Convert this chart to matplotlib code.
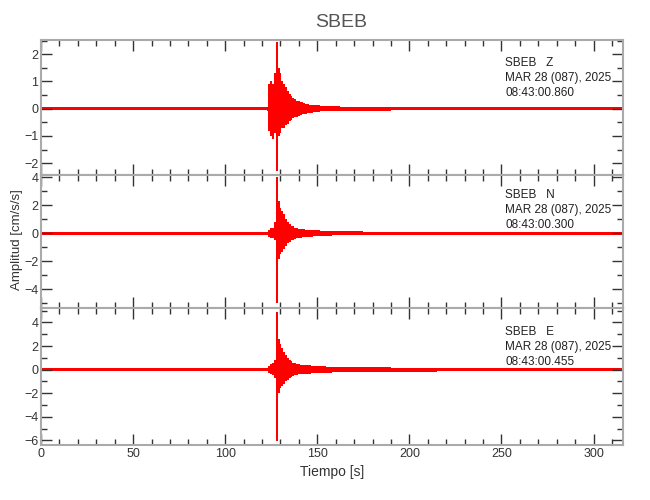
import matplotlib
matplotlib.use("Agg")
import matplotlib.pyplot as plt
from matplotlib.ticker import MultipleLocator

plt.rcParams['font.family'] = ['Liberation Sans', 'DejaVu Sans']

# time points (s): sparse in the noise, 1 s steps through the event
times = ([0, 30, 60, 90, 110]
         + list(range(120, 151))
         + [153, 156, 160, 165, 170, 180, 200, 230, 270, 316])

# envelope of each component (upper / lower)
z_hi = ([0.06, 0.06, 0.06, 0.06, 0.06]
        + [0.06, 0.06, 0.06, 0.07, 0.9, 1.0, 0.9, 1.3, 2.43, 1.5, 1.3, 1.0,
           0.9, 0.8, 0.65, 0.55, 0.45, 0.4, 0.35, 0.3, 0.28, 0.25, 0.25, 0.2,
           0.18, 0.18, 0.15, 0.15, 0.13, 0.12, 0.12]
        + [0.11, 0.1, 0.09, 0.08, 0.07, 0.065, 0.06, 0.06, 0.06, 0.06])
z_lo = ([-0.06, -0.06, -0.06, -0.06, -0.06]
        + [-0.06, -0.06, -0.06, -0.07, -0.8, -1.0, -1.1, -0.9, -2.28, -1.0, -0.9, -0.7,
           -0.7, -0.6, -0.55, -0.45, -0.4, -0.35, -0.3, -0.3, -0.25, -0.22, -0.2, -0.2,
           -0.18, -0.16, -0.15, -0.14, -0.12, -0.12, -0.11]
        + [-0.1, -0.1, -0.09, -0.08, -0.07, -0.065, -0.06, -0.06, -0.06, -0.06])

n_hi = ([0.1, 0.1, 0.1, 0.1, 0.1]
        + [0.1, 0.1, 0.1, 0.1, 0.25, 0.35, 0.4, 0.8, 4.0, 2.3, 1.8, 1.6,
           1.4, 1.0, 0.8, 0.65, 0.55, 0.5, 0.4, 0.35, 0.32, 0.3, 0.3, 0.28,
           0.27, 0.26, 0.25, 0.24, 0.22, 0.21, 0.2]
        + [0.19, 0.17, 0.15, 0.14, 0.13, 0.12, 0.11, 0.1, 0.1, 0.1])
n_lo = ([-0.1, -0.1, -0.1, -0.1, -0.1]
        + [-0.1, -0.1, -0.1, -0.1, -0.25, -0.3, -0.35, -0.5, -5.0, -1.8, -1.5, -1.3,
           -1.1, -0.9, -0.7, -0.6, -0.5, -0.45, -0.4, -0.35, -0.3, -0.3, -0.28, -0.27,
           -0.26, -0.25, -0.24, -0.23, -0.22, -0.21, -0.2]
        + [-0.19, -0.17, -0.15, -0.14, -0.13, -0.12, -0.11, -0.1, -0.1, -0.1])

e_hi = ([0.14, 0.14, 0.14, 0.14, 0.14]
        + [0.13, 0.13, 0.13, 0.13, 0.3, 0.45, 0.6, 0.8, 4.9, 2.6, 2.2, 1.8,
           1.5, 1.2, 1.0, 0.8, 0.7, 0.6, 0.55, 0.5, 0.45, 0.43, 0.4, 0.39,
           0.38, 0.36, 0.35, 0.34, 0.32, 0.31, 0.3]
        + [0.28, 0.26, 0.24, 0.22, 0.2, 0.18, 0.17, 0.16, 0.15, 0.15])
e_lo = ([-0.14, -0.14, -0.14, -0.14, -0.14]
        + [-0.13, -0.13, -0.13, -0.13, -0.3, -0.4, -0.5, -0.7, -6.1, -2.0, -1.6, -1.4,
           -1.2, -1.0, -0.9, -0.7, -0.6, -0.55, -0.5, -0.45, -0.4, -0.39, -0.38, -0.37,
           -0.36, -0.35, -0.34, -0.33, -0.32, -0.31, -0.3]
        + [-0.28, -0.26, -0.24, -0.22, -0.2, -0.18, -0.17, -0.16, -0.15, -0.15])

labels = ["SBEB   Z\nMAR 28 (087), 2025\n08:43:00.860",
          "SBEB   N\nMAR 28 (087), 2025\n08:43:00.300",
          "SBEB   E\nMAR 28 (087), 2025\n08:43:00.455"]
ylims = [(-2.43, 2.52), (-5.33, 4.16), (-6.4, 5.23)]
ymajor = [1, 2, 2]
yminor = [0.5, 1, 1]
label_y = [0.875, 0.895, 0.87]

fig = plt.figure(figsize=(6.5, 5), dpi=100)
left, width = 41 / 650, (623 - 41) / 650
boxes = [(40, 175), (175, 308), (308, 445)]

axes = []
for top, bot in boxes:
    ax = fig.add_axes([left, 1 - bot / 500, width, (bot - top) / 500])
    axes.append(ax)

series = [(z_hi, z_lo), (n_hi, n_lo), (e_hi, e_lo)]
for i, ax in enumerate(axes):
    hi, lo = series[i]
    ax.fill_between(times, lo, hi, step='mid', color='red', lw=0)
    ax.set_xlim(0, 316)
    ax.set_ylim(*ylims[i])
    ax.xaxis.set_major_locator(MultipleLocator(50))
    ax.xaxis.set_minor_locator(MultipleLocator(10))
    ax.yaxis.set_major_locator(MultipleLocator(ymajor[i]))
    ax.yaxis.set_minor_locator(MultipleLocator(yminor[i]))
    ax.tick_params(which='both', direction='in', top=True, right=True,
                   color='#333333', width=1, labelsize=9, labelcolor='#333333', pad=2)
    ax.tick_params(which='major', length=8)
    ax.tick_params(which='minor', length=4)
    for s in ax.spines.values():
        s.set_color('#aaaaaa')
        s.set_linewidth(1.5)
    if i < 2:
        ax.tick_params(labelbottom=False)
    ax.text(0.798, label_y[i], labels[i], transform=ax.transAxes,
            ha='left', va='top', fontsize=8.5, color='#222222', linespacing=1.35)

axes[2].set_xlabel("Tiempo [s]", fontsize=10, color='#333333', labelpad=4)
fig.text(0.026, 0.52, "Amplitud [cm/s/s]", rotation=90, ha='center', va='center',
         fontsize=9.5, color='#333333')
fig.text(0.525, 0.955, "SBEB", ha='center', va='center', fontsize=14, color='#555555')

fig.savefig("out.png", dpi=100)
